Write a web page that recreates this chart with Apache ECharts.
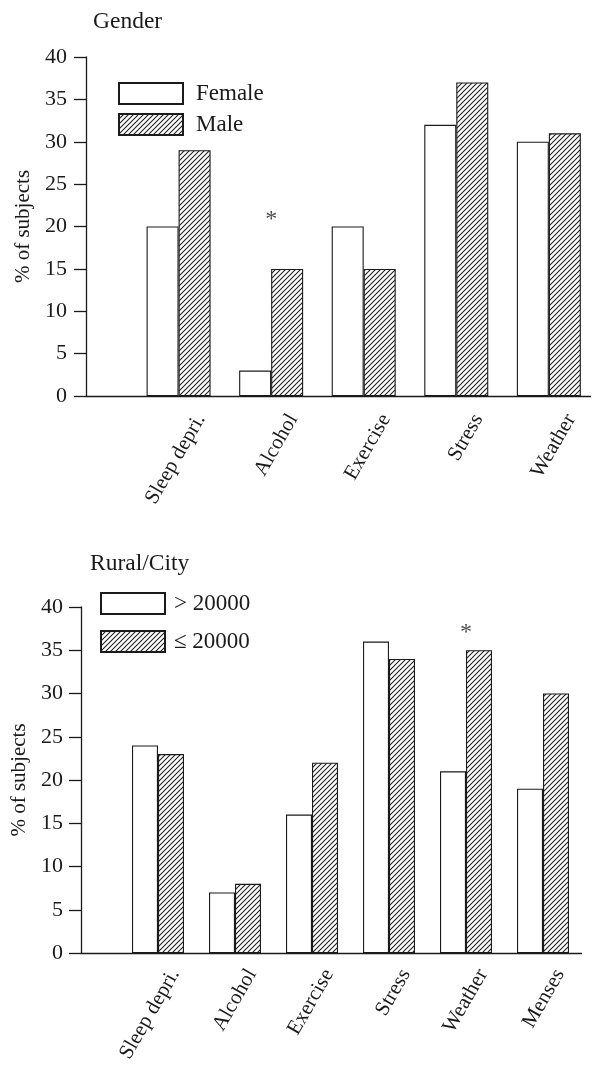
<!DOCTYPE html>
<html>
<head>
<meta charset="utf-8">
<script src="https://cdn.jsdelivr.net/npm/echarts@6/dist/echarts.min.js"></script>
<style>
html,body{margin:0;padding:0;background:#fff;}
#chart{width:592px;height:1067px;}
</style>
</head>
<body>
<div id="chart"></div>
<script>
// ---- data ----
const genderCats = ['Sleep depri.', 'Alcohol', 'Exercise', 'Stress', 'Weather'];
const femaleVals = [20, 3, 20, 32, 30];
const maleVals = [29, 15, 15, 37, 31];
const genderSig = [[2, 20.8]]; // asterisk above Alcohol

const ruralCats = ['Sleep depri.', 'Alcohol', 'Exercise', 'Stress', 'Weather', 'Menses'];
const bigTownVals = [24, 7, 16, 36, 21, 19];
const smallTownVals = [23, 8, 22, 34, 35, 30];
const ruralSig = [[5, 37.0]]; // asterisk above Weather

const yTicks = [0, 5, 10, 15, 20, 25, 30, 35, 40];

// ---- styles ----
const FONT = '"Liberation Serif", "DejaVu Serif", serif';
const INK = '#1a1a1a';

function hatch() {
  const c = document.createElement('canvas');
  const s = 5;
  c.width = s; c.height = s;
  const g = c.getContext('2d');
  g.fillStyle = '#fff';
  g.fillRect(0, 0, s, s);
  g.strokeStyle = '#222';
  g.lineWidth = 1.1;
  g.beginPath();
  g.moveTo(-1, s + 1); g.lineTo(s + 1, -1);
  g.moveTo(-1, 1); g.lineTo(1, -1);
  g.moveTo(s - 1, s + 1); g.lineTo(s + 1, s - 1);
  g.stroke();
  return { image: c, repeat: 'repeat' };
}
const HATCH = hatch();

function xLabeler(cats) {
  return v => (Number.isInteger(v) && v >= 1 && v <= cats.length) ? cats[v - 1] : '';
}
function pairs(vals) { return vals.map((v, i) => [i + 1, v]); }

function xAxisFor(gridIndex, cats, max, margin, padTop) {
  return {
    type: 'value', gridIndex, min: 0, max, interval: 1,
    axisLine: { show: true, onZero: false, lineStyle: { color: INK, width: 1.3 } },
    axisTick: { show: false },
    splitLine: { show: false },
    axisLabel: {
      formatter: xLabeler(cats), rotate: 60, margin,
      verticalAlign: 'top', padding: [padTop, 0, 0, 0],
      fontFamily: FONT, fontSize: 21, color: INK
    }
  };
}
function yAxisFor(gridIndex, nameGap, margin) {
  return {
    type: 'value', gridIndex, min: yTicks[0], max: yTicks[yTicks.length - 1], interval: 5,
    name: '% of subjects', nameLocation: 'middle', nameGap,
    nameTextStyle: { fontFamily: FONT, fontSize: 21, color: INK },
    axisLine: { show: true, lineStyle: { color: INK, width: 1.3 } },
    axisTick: { show: true, length: 12, lineStyle: { color: INK, width: 1.3 } },
    splitLine: { show: false },
    axisLabel: { margin, fontFamily: FONT, fontSize: 22, color: INK }
  };
}
function barSeries(name, vals, idx, hatched, width) {
  return {
    type: 'bar', name, xAxisIndex: idx, yAxisIndex: idx,
    data: pairs(vals), barWidth: width, barGap: '0%',
    itemStyle: { color: hatched ? HATCH : '#fff', borderColor: INK, borderWidth: 1.1 },
    emphasis: { disabled: true }, silent: true
  };
}
function starSeries(data, idx) {
  return {
    type: 'scatter', xAxisIndex: idx, yAxisIndex: idx, data,
    symbolSize: 1, itemStyle: { color: 'rgba(0,0,0,0)' }, silent: true,
    label: { show: true, position: 'inside', formatter: '*', fontFamily: FONT, fontSize: 24, color: INK }
  };
}

const chart = echarts.init(document.getElementById('chart'), null, { renderer: 'canvas' });
chart.setOption({
  backgroundColor: '#fff',
  animation: false,
  title: [
    { text: 'Gender', left: 88, top: 5, textStyle: { fontFamily: FONT, fontSize: 23.5, fontWeight: 'normal', color: INK } },
    { text: 'Rural/City', left: 85, top: 547, textStyle: { fontFamily: FONT, fontSize: 23.5, fontWeight: 'normal', color: INK } }
  ],
  legend: [
    {
      data: ['Female', 'Male'], orient: 'vertical', left: 113, top: 77,
      itemWidth: 64, itemHeight: 21, itemGap: 8, icon: 'rect',
      textStyle: { fontFamily: FONT, fontSize: 23, color: INK, padding: [0, 0, 0, 8] },
      selectedMode: false
    },
    {
      data: ['> 20000', '≤ 20000'], orient: 'vertical', left: 95, top: 587,
      itemWidth: 64, itemHeight: 21, itemGap: 15, icon: 'rect',
      textStyle: { fontFamily: FONT, fontSize: 23, color: INK, padding: [0, 0, 0, 4] },
      selectedMode: false
    }
  ],
  grid: [
    { left: 86, top: 57, width: 509.6, height: 339 },
    { left: 81, top: 607, width: 500.5, height: 346 }
  ],
  xAxis: [xAxisFor(0, genderCats, 5.45, 7, 15), xAxisFor(1, ruralCats, 6.5, 8, 9)],
  yAxis: [yAxisFor(0, 51, 19), yAxisFor(1, 43, 18)],
  series: [
    barSeries('Female', femaleVals, 0, false, 32),
    barSeries('Male', maleVals, 0, true, 32),
    starSeries(genderSig, 0),
    barSeries('> 20000', bigTownVals, 1, false, 26),
    barSeries('≤ 20000', smallTownVals, 1, true, 26),
    starSeries(ruralSig, 1)
  ]
});
</script>
</body>
</html>
